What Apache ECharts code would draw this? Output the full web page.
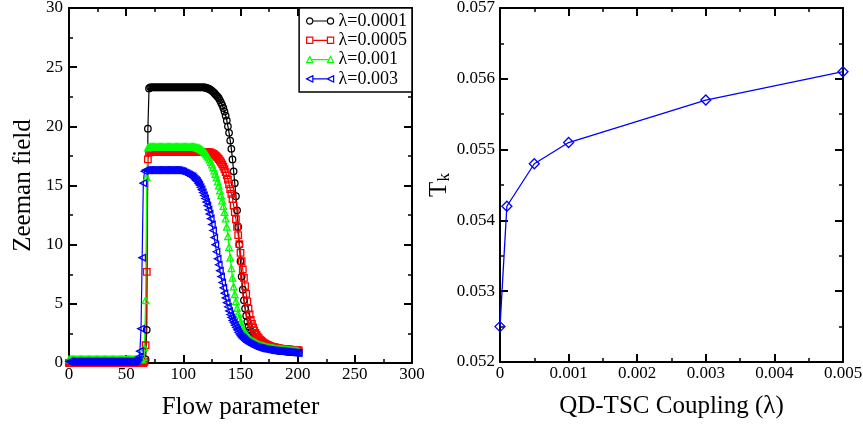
<!DOCTYPE html>
<html>
<head>
<meta charset="utf-8">
<script src="https://cdn.jsdelivr.net/npm/echarts@6/dist/echarts.min.js"></script>
<style>html,body{margin:0;padding:0;background:#fff}#c{width:863px;height:430px}</style>
</head>
<body>
<div id="c"></div>
<script>
// ---------- Left panel data ----------
const flowParam = [
0,1,2,3,4,5,6,7,8,9,
10,11,12,13,14,15,16,17,18,19,
20,21,22,23,24,25,26,27,28,29,
30,31,32,33,34,35,36,37,38,39,
40,41,42,43,44,45,46,47,48,49,
50,51,52,53,54,55,56,57,58,59,
60,61,62,63,64,65,66,67,68,69,
70,71,72,73,74,75,76,77,78,79,
80,81,82,83,84,85,86,87,88,89,
90,91,92,93,94,95,96,97,98,99,
100,101,102,103,104,105,106,107,108,109,
110,111,112,113,114,115,116,117,118,119,
120,121,122,123,124,125,126,127,128,129,
130,131,132,133,134,135,136,137,138,139,
140,141,142,143,144,145,146,147,148,149,
150,151,152,153,154,155,156,157,158,159,
160,161,162,163,164,165,166,167,168,169,
170,171,172,173,174,175,176,177,178,179,
180,181,182,183,184,185,186,187,188,189,
190,191,192,193,194,195,196,197,198,199,
200,201];

const zeemanL0001 = [
0.05,0.05,0.05,0.05,0.05,0.05,0.05,0.05,0.05,0.05,
0.05,0.05,0.05,0.05,0.05,0.05,0.05,0.05,0.05,0.05,
0.05,0.05,0.05,0.05,0.05,0.05,0.05,0.05,0.05,0.05,
0.05,0.05,0.05,0.05,0.05,0.05,0.05,0.05,0.05,0.05,
0.05,0.05,0.05,0.05,0.05,0.05,0.05,0.05,0.05,0.05,
0.05,0.05,0.05,0.05,0.05,0.05,0.05,0.05,0.05,0.05,
0.05,0.05,0.05,0.05,0.05,0.05,0.05,0.3,2.8,19.8,
23.2,23.3,23.3,23.3,23.3,23.3,23.3,23.3,23.3,23.3,
23.3,23.3,23.3,23.3,23.3,23.3,23.3,23.3,23.3,23.3,
23.3,23.3,23.3,23.3,23.3,23.3,23.3,23.3,23.3,23.3,
23.3,23.3,23.3,23.3,23.3,23.3,23.3,23.3,23.3,23.3,
23.3,23.3,23.3,23.3,23.3,23.3,23.3,23.3,23.3,23.28,
23.25,23.22,23.18,23.14,23.08,23.0,22.92,22.82,22.72,22.6,
22.5,22.38,22.2,22.0,21.8,21.55,21.25,20.9,20.5,20.0,
19.45,18.8,18.1,17.2,16.2,15.2,14.1,12.9,11.5,10.0,
8.6,7.3,6.2,5.3,4.6,4.0,3.5,3.1,2.8,2.55,
2.35,2.2,2.08,1.98,1.9,1.83,1.77,1.72,1.66,1.6,
1.54,1.48,1.42,1.37,1.32,1.28,1.24,1.2,1.17,1.14,
1.11,1.09,1.07,1.05,1.04,1.03,1.02,1.01,1.0,0.99,
0.98,0.97,0.96,0.96,0.95,0.95,0.94,0.94,0.93,0.93,
0.92,0.92];

const zeemanL0005 = [
0,0,0,0,0,0,0,0,0,0,
0,0,0,0,0,0,0,0,0,0,
0,0,0,0,0,0,0,0,0,0,
0,0,0,0,0,0,0,0,0,0,
0,0,0,0,0,0,0,0,0,0,
0,0,0,0,0,0,0,0,0,0,
0,0,0,0,0,0,0.1,1.5,7.7,17.2,
17.8,17.85,17.85,17.85,17.85,17.85,17.85,17.85,17.85,17.85,
17.85,17.85,17.85,17.85,17.85,17.85,17.85,17.85,17.85,17.85,
17.85,17.85,17.85,17.85,17.85,17.85,17.85,17.85,17.85,17.85,
17.85,17.85,17.85,17.85,17.85,17.85,17.85,17.85,17.85,17.85,
17.85,17.85,17.85,17.85,17.85,17.85,17.85,17.85,17.85,17.85,
17.85,17.84,17.82,17.8,17.77,17.73,17.68,17.62,17.54,17.45,
17.35,17.24,17.11,16.96,16.79,16.6,16.38,16.13,15.85,15.5,
15.1,14.7,14.3,13.85,13.3,12.75,12.15,11.5,10.8,10.05,
9.3,8.6,7.9,7.2,6.5,5.85,5.2,4.6,4.1,3.65,
3.3,3.0,2.75,2.55,2.38,2.23,2.1,1.98,1.88,1.8,
1.73,1.66,1.6,1.55,1.5,1.46,1.42,1.39,1.36,1.33,
1.31,1.29,1.27,1.25,1.23,1.21,1.2,1.19,1.18,1.17,
1.16,1.15,1.14,1.13,1.12,1.11,1.1,1.1,1.09,1.08,
1.08,1.07];

const zeemanL001 = [
0.3,0.3,0.3,0.3,0.3,0.3,0.3,0.3,0.3,0.3,
0.3,0.3,0.3,0.3,0.3,0.3,0.3,0.3,0.3,0.3,
0.3,0.3,0.3,0.3,0.3,0.3,0.3,0.3,0.3,0.3,
0.3,0.3,0.3,0.3,0.3,0.3,0.3,0.3,0.3,0.3,
0.3,0.3,0.3,0.3,0.3,0.3,0.3,0.3,0.3,0.3,
0.3,0.3,0.3,0.3,0.3,0.3,0.3,0.3,0.3,0.3,
0.3,0.3,0.3,0.3,0.3,0.5,1.3,5.3,15.7,18.2,
18.25,18.25,18.25,18.25,18.25,18.25,18.25,18.25,18.25,18.25,
18.25,18.25,18.25,18.25,18.25,18.25,18.25,18.25,18.25,18.25,
18.25,18.25,18.25,18.25,18.25,18.25,18.25,18.25,18.25,18.25,
18.25,18.25,18.25,18.25,18.25,18.25,18.25,18.25,18.25,18.25,
18.24,18.22,18.2,18.17,18.13,18.08,18.02,17.95,17.86,17.76,
17.64,17.5,17.35,17.18,16.98,16.76,16.52,16.26,15.97,15.66,
15.32,14.96,14.57,14.16,13.72,13.25,12.75,12.2,11.5,10.7,
9.8,8.9,8.0,7.2,6.45,5.8,5.2,4.65,4.15,3.75,
3.42,3.15,2.92,2.72,2.55,2.4,2.27,2.15,2.05,1.96,
1.88,1.81,1.75,1.69,1.64,1.59,1.55,1.51,1.47,1.44,
1.41,1.38,1.36,1.34,1.32,1.3,1.28,1.26,1.24,1.22,
1.2,1.19,1.18,1.17,1.16,1.15,1.14,1.13,1.12,1.11,
1.1,1.09,1.08,1.07,1.06,1.05,1.04,1.03,1.02,1.01,
1.0,1.0];

const zeemanL003 = [
0.12,0.12,0.12,0.12,0.12,0.12,0.12,0.12,0.12,0.12,
0.12,0.12,0.12,0.12,0.12,0.12,0.12,0.12,0.12,0.12,
0.12,0.12,0.12,0.12,0.12,0.12,0.12,0.12,0.12,0.12,
0.12,0.12,0.12,0.12,0.12,0.12,0.12,0.12,0.12,0.12,
0.12,0.12,0.12,0.12,0.12,0.12,0.12,0.12,0.12,0.12,
0.12,0.12,0.12,0.12,0.12,0.12,0.12,0.12,0.12,0.2,
0.3,0.5,1.0,2.9,8.9,15.2,16.2,16.3,16.3,16.3,
16.3,16.3,16.3,16.3,16.3,16.3,16.3,16.3,16.3,16.3,
16.3,16.3,16.3,16.3,16.3,16.3,16.3,16.3,16.3,16.3,
16.3,16.3,16.3,16.3,16.3,16.3,16.28,16.25,16.22,16.2,
16.15,16.1,16.05,16.0,15.95,15.9,15.85,15.8,15.75,15.65,
15.55,15.45,15.35,15.2,15.05,14.85,14.65,14.4,14.15,13.9,
13.6,13.3,12.95,12.6,12.2,11.7,11.2,10.6,10.0,9.4,
8.8,8.3,7.8,7.3,6.8,6.35,5.9,5.5,5.1,4.75,
4.4,4.1,3.85,3.6,3.4,3.2,3.0,2.8,2.6,2.45,
2.3,2.2,2.1,2.0,1.9,1.82,1.75,1.68,1.62,1.57,
1.52,1.47,1.43,1.39,1.35,1.32,1.29,1.26,1.24,1.22,
1.2,1.18,1.16,1.14,1.12,1.1,1.09,1.08,1.07,1.06,
1.05,1.04,1.03,1.02,1.01,1.0,0.99,0.98,0.97,0.96,
0.95,0.94,0.93,0.92,0.91,0.9,0.89,0.88,0.87,0.86,
0.85,0.84];

const seriesNames = ['λ=0.0001', 'λ=0.0005', 'λ=0.001', 'λ=0.003'];

// ---------- Right panel data ----------
const coupling = [0, 0.0001, 0.0005, 0.001, 0.003, 0.005];
const tk = [0.0525, 0.0542, 0.0548, 0.0551, 0.0557, 0.0561];

// ---------- Styling ----------
const FONT = '"Liberation Serif", "DejaVu Serif", serif';
const leftYTicks = {min: 0, max: 30, interval: 5};
const leftXTicks = {min: 0, max: 300, interval: 50};
const rightXTicks = {min: 0, max: 0.005, interval: 0.001};
const rightYTicks = {min: 0.052, max: 0.057, interval: 0.001};

function ax(extra, showLabel, labelOpts) {
  return Object.assign({
    type: 'value',
    axisLine: {show: true, onZero: false, lineStyle: {color: '#000', width: 2}},
    axisTick: {show: true, inside: true, length: 8, lineStyle: {color: '#000', width: 2}},
    minorTick: {show: true, splitNumber: 2, length: 4, lineStyle: {color: '#000', width: 1.5}},
    splitLine: {show: false},
    minorSplitLine: {show: false},
    axisLabel: Object.assign({show: showLabel, color: '#000', fontFamily: FONT, fontSize: 17}, labelOpts || {}),
    nameTextStyle: {color: '#000', fontFamily: FONT, fontSize: 25}
  }, extra);
}

function pairs(xs, ys) { return xs.map((x, i) => [x, ys[i]]); }

const colors = ['#000000', '#ff0000', '#00ff00', '#0000ff'];
const symbols = ['circle', 'rect', 'triangle', 'path://M0,5 L10,0 L10,10 Z'];
const ySets = [zeemanL0001, zeemanL0005, zeemanL001, zeemanL003];

const legendIcons = [
  'path://M0.5,3.5 a3,3 0 1,0 6,0 a3,3 0 1,0 -6,0 M6.5,3.5 L20.5,3.5 M20.5,3.5 a3,3 0 1,0 6,0 a3,3 0 1,0 -6,0',
  'path://M0.5,0.5 h6 v6 h-6 z M6.5,3.5 L20.5,3.5 M20.5,0.5 h6 v6 h-6 z',
  'path://M3.5,0.5 L6.5,6.5 L0.5,6.5 z M5,3.5 L22,3.5 M23.5,0.5 L26.5,6.5 L20.5,6.5 z',
  'path://M0.5,3.5 L6.5,0.5 L6.5,6.5 z M6.5,3.5 L20.5,3.5 M20.5,3.5 L26.5,0.5 L26.5,6.5 z'
];

const leftSeries = seriesNames.map((name, i) => ({
  name: name,
  type: 'line',
  xAxisIndex: 0,
  yAxisIndex: 0,
  data: pairs(flowParam, ySets[i]),
  symbol: symbols[i],
  symbolSize: 6.5,
  showAllSymbol: true,
  itemStyle: {color: 'none', borderColor: colors[i], borderWidth: 1.3},
  lineStyle: {color: colors[i], width: 1.2},
  emphasis: {disabled: true},
  animation: false
}));

const chart = echarts.init(document.getElementById('c'), null, {renderer: 'canvas'});
chart.setOption({
  backgroundColor: '#fff',
  animation: false,
  grid: [
    {left: 69, top: 8, width: 343, height: 355, outerBoundsMode: 'none', containLabel: false},
    {left: 500, top: 8, width: 343, height: 354, outerBoundsMode: 'none', containLabel: false}
  ],
  legend: {
    orient: 'vertical',
    right: 451,
    top: 8,
    padding: [4, 5, 4, 5],
    itemGap: 1.3,
    itemWidth: 27,
    itemHeight: 7,
    borderColor: '#000',
    borderWidth: 1.5,
    backgroundColor: '#fff',
    selectedMode: false,
    textStyle: {color: '#000', fontFamily: FONT, fontSize: 18},
    data: seriesNames.map((n, i) => ({
      name: n,
      icon: legendIcons[i],
      itemStyle: {color: 'none', borderColor: colors[i], borderWidth: 1.2}
    }))
  },
  xAxis: [
    ax(Object.assign({gridIndex: 0, position: 'bottom', name: 'Flow parameter', nameLocation: 'middle', nameGap: 32}, leftXTicks), true, {margin: 3}),
    ax(Object.assign({gridIndex: 0, position: 'top'}, leftXTicks), false),
    ax(Object.assign({gridIndex: 1, position: 'bottom', name: 'QD-TSC Coupling (λ)', nameLocation: 'middle', nameGap: 32}, rightXTicks), true,
       {margin: 3, formatter: v => (v === 0 ? '0' : v.toFixed(3))}),
    ax(Object.assign({gridIndex: 1, position: 'top'}, rightXTicks), false)
  ],
  yAxis: [
    ax(Object.assign({gridIndex: 0, position: 'left', name: 'Zeeman field', nameLocation: 'middle', nameGap: 33}, leftYTicks), true, {margin: 6}),
    ax(Object.assign({gridIndex: 0, position: 'right'}, leftYTicks), false),
    Object.assign(ax(Object.assign({gridIndex: 1, position: 'left', name: '{t|T}{k|k}', nameLocation: 'middle', nameGap: 32}, rightYTicks), true,
       {margin: 5, formatter: v => v.toFixed(3)}),
       {nameTextStyle: {color: '#000', fontFamily: FONT, fontSize: 25,
         rich: {t: {fontFamily: FONT, fontSize: 25, color: '#000'},
                k: {fontFamily: FONT, fontSize: 17, color: '#000', padding: [10, 0, 0, 0]}}}}),
    ax(Object.assign({gridIndex: 1, position: 'right'}, rightYTicks), false)
  ],
  series: leftSeries.concat([{
    name: 'Tk',
    type: 'line',
    xAxisIndex: 2,
    yAxisIndex: 2,
    data: pairs(coupling, tk),
    symbol: 'diamond',
    symbolSize: 10,
    itemStyle: {color: 'none', borderColor: '#0000ff', borderWidth: 1.3},
    lineStyle: {color: '#0000ff', width: 1.3},
    emphasis: {disabled: true},
    animation: false
  }])
});
</script>
</body>
</html>
